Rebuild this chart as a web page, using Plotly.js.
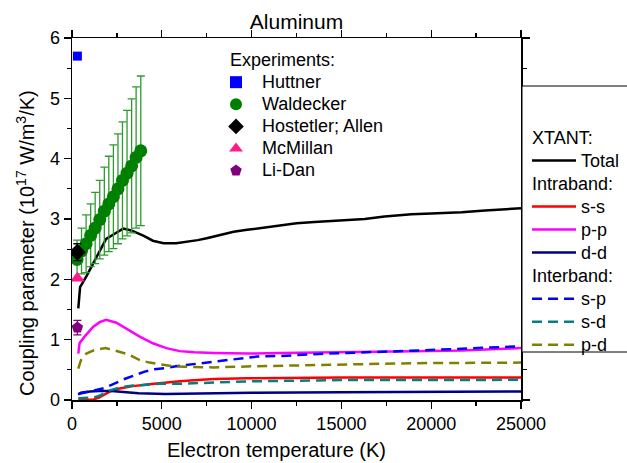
<!DOCTYPE html>
<html><head><meta charset="utf-8">
<script src="https://cdn.plot.ly/plotly-3.0.1.min.js"></script>
<style>html,body{margin:0;padding:0;background:#fff}#chart{width:627px;height:463px}</style>
</head><body><div id="chart"></div>
<script>
// ---- XTANT calculations (electron temperature K, coupling 1e17 W/m^3/K)
const totalT = [350, 450, 800, 1200, 1550, 1900, 2400, 2850, 3300, 4000, 4500, 5100, 5800, 6400, 7000, 7500, 8250, 9000, 9750, 10700, 11600, 12500, 13500, 14400, 15300, 16300, 17400, 18900, 20000, 21700, 23000, 25000];
const totalG = [1.52, 1.87, 2.05, 2.27, 2.48, 2.67, 2.76, 2.84, 2.81, 2.72, 2.64, 2.60, 2.60, 2.62, 2.65, 2.68, 2.74, 2.79, 2.82, 2.86, 2.90, 2.93, 2.95, 2.97, 2.98, 3.00, 3.04, 3.08, 3.09, 3.11, 3.14, 3.18];

const ssT = [350, 1000, 1200, 1500, 2100, 2650, 3400, 4300, 5250, 6000, 7000, 7900, 9750, 12500, 15000, 20000, 25000];
const ssG = [0.00, 0.00, 0.01, 0.04, 0.14, 0.19, 0.23, 0.26, 0.29, 0.31, 0.33, 0.35, 0.36, 0.37, 0.375, 0.375, 0.375];

const ppT = [350, 420, 700, 1170, 1540, 1900, 2470, 3030, 3770, 4500, 5250, 6000, 6800, 7900, 9750, 11600, 13500, 15300, 17000, 19000, 21700, 25000];
const ppG = [0.77, 0.94, 1.05, 1.21, 1.29, 1.33, 1.28, 1.18, 1.05, 0.94, 0.86, 0.81, 0.79, 0.78, 0.77, 0.78, 0.79, 0.79, 0.80, 0.81, 0.82, 0.86];

const ddT = [350, 500, 1000, 1500, 2200, 2800, 3700, 5200, 7000, 10000, 15000, 20000, 25000];
const ddG = [0.09, 0.12, 0.14, 0.15, 0.15, 0.13, 0.11, 0.10, 0.11, 0.12, 0.13, 0.135, 0.14];

const spT = [350, 800, 1200, 1700, 2200, 2850, 3400, 4050, 4600, 5250, 5800, 6600, 7900, 9200, 10300, 11600, 12900, 14200, 15300, 16700, 19300, 21700, 23200, 25000];
const spG = [0.10, 0.13, 0.15, 0.19, 0.25, 0.34, 0.40, 0.47, 0.51, 0.53, 0.56, 0.59, 0.63, 0.68, 0.72, 0.73, 0.755, 0.77, 0.78, 0.79, 0.82, 0.85, 0.87, 0.89];

const sdT = [350, 800, 1200, 1600, 2100, 2700, 3400, 4000, 5000, 6000, 7000, 8000, 10000, 12500, 15000, 20000, 25000];
const sdG = [0.03, 0.03, 0.04, 0.08, 0.16, 0.21, 0.24, 0.25, 0.27, 0.27, 0.28, 0.30, 0.31, 0.32, 0.33, 0.33, 0.335];

const pdT = [350, 500, 800, 1260, 1870, 2470, 3120, 3770, 4320, 4980, 5630, 6300, 7900, 10300, 12900, 15500, 18900, 21700, 25000];
const pdG = [0.52, 0.66, 0.77, 0.83, 0.86, 0.81, 0.76, 0.66, 0.62, 0.59, 0.56, 0.55, 0.54, 0.56, 0.58, 0.59, 0.61, 0.62, 0.62];

// ---- Experiments
const huttnerT = [300], huttnerG = [5.70];
const waldT = [280, 530, 785, 1040, 1290, 1545, 1800, 2050, 2305, 2560, 2810, 3065, 3320, 3570, 3830];
const waldG = [2.33, 2.47, 2.59, 2.73, 2.85, 2.99, 3.13, 3.25, 3.37, 3.50, 3.64, 3.76, 3.88, 4.02, 4.13];
const waldErr = [0.32, 0.38, 0.48, 0.52, 0.59, 0.65, 0.73, 0.79, 0.86, 0.91, 0.97, 1.04, 1.11, 1.17, 1.24];
const hostT = [300], hostG = [2.45], hostErr = [0.14];
const mcmT = [300], mcmG = [2.02];
const lidanT = [300], lidanG = [1.20], lidanErr = [0.12];

const xTicks = [0, 5000, 10000, 15000, 20000, 25000];
const yTicks = [0, 1, 2, 3, 4, 5, 6];

const FONT = 'Liberation Sans, Arial, sans-serif';
const big = s => '<span style="font-size:18px">' + s + '</span>';
const DASH = '10px,6px';
const LW = 2.5;

function line(x, y, name, color, dash, group, gtitle) {
  const t = {x, y, name: big(name), type: 'scatter', mode: 'lines',
    line: {color, width: LW, dash: dash || 'solid'},
    legend: 'legend2', legendgroup: group, hoverinfo: 'skip'};
  if (gtitle) t.legendgrouptitle = {text: big(gtitle), font: {size: 15.4, family: FONT, color: '#000'}};
  return t;
}
function exp(x, y, name, color, symbol, size, err, errColor, first) {
  const t = {x, y, name: big(name), type: 'scatter', mode: 'markers',
    marker: {color, symbol, size, line: {width: 0}},
    legend: 'legend', legendgroup: 'exp', hoverinfo: 'skip'};
  if (err) t.error_y = {type: 'data', array: err, visible: true, color: errColor || color, thickness: 1.3, width: 4};
  if (first) t.legendgrouptitle = {text: big('Experiments:'), font: {size: 14.7, family: FONT, color: '#000'}};
  return t;
}

const data = [
  line(totalT, totalG, 'Total', '#000000', null, 'g1', 'XTANT:'),
  line(ssT, ssG, 's-s', '#ff0000', null, 'g2', 'Intraband:'),
  line(ppT, ppG, 'p-p', '#ff00ff', null, 'g2'),
  line(ddT, ddG, 'd-d', '#000080', null, 'g2'),
  line(spT, spG, 's-p', '#0000ff', DASH, 'g3', 'Interband:'),
  line(sdT, sdG, 's-d', '#008080', DASH, 'g3'),
  line(pdT, pdG, 'p-d', '#808000', DASH, 'g3'),
  exp(huttnerT, huttnerG, 'Huttner', '#0000ff', 'square', 9, null, null, true),
  exp(waldT, waldG, 'Waldecker', '#008000', 'circle', 13, waldErr, '#2f9a2f'),
  exp(hostT, hostG, 'Hostetler; Allen', '#000000', 'diamond', 13, hostErr),
  exp(mcmT, mcmG, 'McMillan', '#ff1a8c', 'triangle-up', 13),
  exp(lidanT, lidanG, 'Li-Dan', '#800080', 'pentagon', 12, lidanErr)
];

const L = 72, R = 106, T = 38, B = 63;
const PW = 627 - L - R, PH = 463 - T - B;
const px = v => (v - L) / PW;
const py = v => (463 - B - v) / PH;

const axisCommon = {
  showline: true, linecolor: '#000', linewidth: 1.5, mirror: 'ticks',
  ticks: 'outside', ticklen: 7, tickwidth: 1.3, tickcolor: '#000',
  showgrid: false, zeroline: false,
  tickfont: {family: FONT, size: 18, color: '#000'},
  tickmode: 'array'
};

const layout = {
  width: 627, height: 463,
  margin: {l: L, r: R, t: T, b: B, pad: 0, autoexpand: false},
  paper_bgcolor: '#fff', plot_bgcolor: '#fff',
  font: {family: FONT, color: '#000'},
  showlegend: true,
  title: {text: 'Aluminum', font: {family: FONT, size: 21, color: '#000'},
          x: 0.5, xref: 'paper', xanchor: 'center', y: 1 - 22 / 463, yref: 'container', yanchor: 'middle'},
  xaxis: Object.assign({}, axisCommon, {
    range: [0, 25000], tickvals: xTicks, ticktext: xTicks.map(String),
    minor: {tickvals: [2500, 7500, 12500, 17500, 22500], ticks: 'outside', ticklen: 4, tickwidth: 1.3, tickcolor: '#000', showgrid: false}
  }),
  yaxis: Object.assign({}, axisCommon, {
    range: [0, 6], tickvals: yTicks, ticktext: yTicks.map(String),
    minor: {tickvals: [0.5, 1.5, 2.5, 3.5, 4.5, 5.5], ticks: 'outside', ticklen: 4, tickwidth: 1.3, tickcolor: '#000', showgrid: false}
  }),
  annotations: [
    {text: 'Electron temperature (K)', xref: 'paper', yref: 'paper', x: px(276), y: py(450),
     xanchor: 'center', yanchor: 'middle', showarrow: false, font: {family: FONT, size: 20, color: '#000'}},
    {text: 'Coupling parameter (10<sup>17</sup> W/m<sup>3</sup>/K)', xref: 'paper', yref: 'paper', x: px(25), y: py(243),
     xanchor: 'center', yanchor: 'middle', textangle: -90, showarrow: false, font: {family: FONT, size: 20, color: '#000'}}
  ],
  legend: {
    x: px(225), y: py(44), xanchor: 'left', yanchor: 'top', xref: 'paper', yref: 'paper',
    bgcolor: 'rgba(0,0,0,0)', borderwidth: 0, font: {family: FONT, size: 14.7, color: '#000'},
    itemwidth: 42, indentation: -15, tracegroupgap: 0, traceorder: 'grouped', itemsizing: 'constant',
    itemclick: false, itemdoubleclick: false
  },
  legend2: {
    x: px(527), y: py(121), xanchor: 'left', yanchor: 'top', xref: 'paper', yref: 'paper',
    bgcolor: 'rgba(0,0,0,0)', borderwidth: 0, font: {family: FONT, size: 15.4, color: '#000'},
    itemwidth: 44, tracegroupgap: 0, traceorder: 'grouped',
    itemclick: false, itemdoubleclick: false
  },
  shapes: [{
    type: 'rect', xref: 'paper', yref: 'paper', layer: 'above',
    x0: px(522), x1: px(700), y0: py(352), y1: py(86),
    line: {color: '#000', width: 1}, fillcolor: '#fff'
  }]
};

Plotly.newPlot('chart', data, layout, {staticPlot: true, displayModeBar: false});
</script></body></html>
